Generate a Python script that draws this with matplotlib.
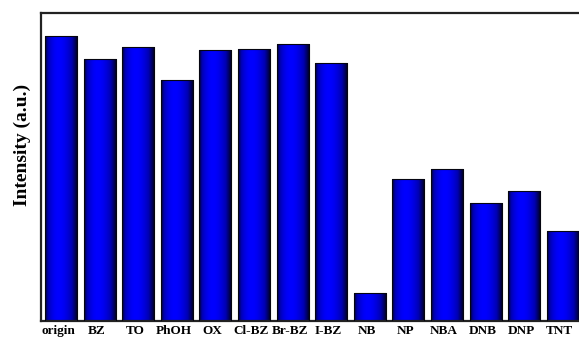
import numpy as np
import matplotlib
matplotlib.use("Agg")
import matplotlib.pyplot as plt
import matplotlib.transforms as mtransforms
from matplotlib.colors import LinearSegmentedColormap

analytes = ["origin", "BZ", "TO", "PhOH", "OX", "Cl-BZ", "Br-BZ", "I-BZ",
            "NB", "NP", "NBA", "DNB", "DNP", "TNT"]
intensity = [285, 262, 274, 241, 271, 272, 277, 258,
             28, 142, 152, 118, 130, 90]

plt.rcParams["font.family"] = ["Liberation Serif", "DejaVu Serif"]
plt.rcParams["font.weight"] = "bold"

fig = plt.figure(figsize=(5.79, 3.39), dpi=100)
ax = fig.add_axes([41 / 579, 18 / 339, 1 - 41 / 579, 308 / 339])

x = np.arange(len(analytes))
bars = ax.bar(x, intensity, width=0.83, facecolor="none",
              edgecolor="#050510", linewidth=0.8, zorder=3)

# cylinder-like shading: black edges, bright blue slightly left of centre
t = np.linspace(0, 1, 256)
shade = np.sin(np.pi * t ** 0.8) ** 0.9
cmap = LinearSegmentedColormap.from_list(
    "bluebar", [(0.0, "#000008"), (0.5, "#0000b0"), (1.0, "#0000ff")])
grad = shade[np.newaxis, :]
for b in bars:
    x0, w, h = b.get_x(), b.get_width(), b.get_height()
    ax.imshow(grad, cmap=cmap, vmin=0, vmax=1, aspect="auto",
              extent=(x0, x0 + w, 0, h), zorder=2, interpolation="bilinear")

ax.set_xlim(-0.518, 13.42)
ax.set_ylim(0, 308)
ax.set_xticks(x)
ax.set_xticklabels(analytes, fontsize=9.5, fontweight="bold")
ax.tick_params(axis="x", length=0, pad=3)
shift = mtransforms.ScaledTranslation(-3 / 100, 0, fig.dpi_scale_trans)
for lab in ax.get_xticklabels():
    lab.set_transform(lab.get_transform() + shift)
ax.set_yticks([])
ax.set_ylabel("Intensity (a.u.)", fontsize=14, fontweight="bold")
ax.yaxis.set_label_coords(-0.018, 0.571)

for side in ("left", "top", "bottom"):
    ax.spines[side].set_linewidth(1.6)
    ax.spines[side].set_color("#222222")
ax.spines["right"].set_visible(False)

fig.savefig("out.png", dpi=100)
